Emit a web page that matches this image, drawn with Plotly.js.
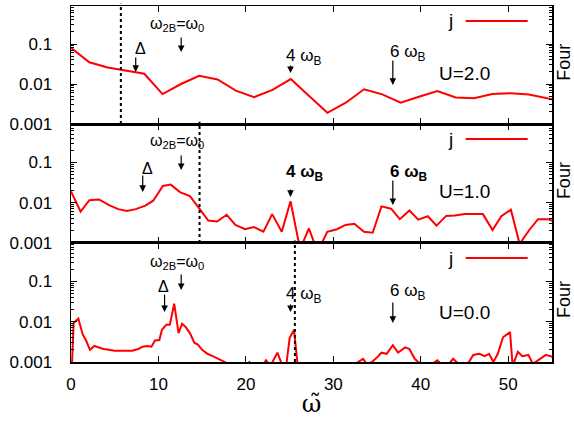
<!DOCTYPE html>
<html>
<head>
<meta charset="utf-8">
<script src="https://cdn.plot.ly/plotly-3.0.1.min.js"></script>
<style>html,body{margin:0;padding:0;background:#fff;}#chart{width:574px;height:421px;}</style>
</head>
<body>
<div id="chart"></div>
<script>
// ---- data: U = 2.0 (top panel)
const xU20 = [0, 2.09, 4.19, 6.28, 8.38, 10.47, 12.57, 14.66, 16.76, 18.85, 20.94, 23.04, 25.13, 27.23, 29.32, 31.42, 33.51, 35.6, 37.7, 39.79, 41.89, 43.98, 46.08, 48.17, 50.27, 52.36, 54.45, 56.55];
const yU20 = [0.081, 0.035, 0.026, 0.022, 0.018, 0.0056, 0.010, 0.016, 0.013, 0.0068, 0.0047, 0.0071, 0.0133, 0.005, 0.0019, 0.0034, 0.0074, 0.0055, 0.0034, 0.0048, 0.0067, 0.0046, 0.0044, 0.0056, 0.0059, 0.0055, 0.0043, 0.0035];
// ---- data: U = 1.0 (middle panel)
const xU10 = [0, 1.1, 2.1, 3.2, 4.4, 5.4, 6.4, 7.4, 8.5, 9.4, 10.5, 11.4, 12.5, 13.6, 14.7, 15.7, 16.7, 17.8, 18.8, 19.9, 20.9, 22.0, 23.0, 24.1, 25.1, 26.2, 27.2, 28.2, 29.3, 30.4, 31.4, 32.4, 33.5, 34.5, 35.5, 36.6, 37.6, 38.7, 39.7, 40.8, 41.8, 42.9, 43.9, 45.0, 46.0, 47.1, 48.2, 49.2, 50.3, 51.3, 52.4, 53.4, 54.5, 55.5];
const yU10 = [0.019, 0.006, 0.0115, 0.012, 0.0086, 0.0069, 0.0062, 0.0069, 0.0084, 0.0112, 0.026, 0.028, 0.018, 0.0145, 0.007, 0.0036, 0.0034, 0.005, 0.0028, 0.0022, 0.0025, 0.0019, 0.0052, 0.0019, 0.0108, 0.0007, 0.0023, 0.0006, 0.0019, 0.0022, 0.0028, 0.003, 0.0019, 0.0018, 0.0081, 0.0071, 0.0039, 0.0064, 0.0038, 0.0046, 0.0027, 0.0047, 0.0048, 0.0052, 0.0052, 0.0052, 0.0021, 0.0046, 0.0067, 0.00095, 0.0021, 0.0039, 0.0039, 0.0033];
// ---- data: U = 0.0 (bottom panel)
const xU00 = [0, 0.3, 0.84, 1.33, 1.7, 2.17, 2.67, 3.2, 3.7, 4.3, 5.0, 6.0, 7.0, 7.7, 8.2, 8.7, 9.2, 9.6, 10.1, 10.4, 10.9, 11.3, 11.8, 12.3, 12.7, 13.1, 13.6, 14.1, 14.5, 15.0, 15.6, 16.2, 16.8, 17.6, 18.2, 19.0, 20.0, 20.4, 20.8, 21.5, 22.3, 22.8, 23.6, 24.1, 24.6, 25.0, 25.5, 25.9, 26.5, 28.0, 30.0, 31.5, 32.5, 33.4, 33.8, 34.4, 35.0, 35.5, 36.1, 36.8, 37.4, 38.2, 38.7, 39.3, 39.7, 40.5, 41.3, 41.9, 42.5, 43.2, 43.7, 44.3, 45.0, 45.5, 46.0, 46.7, 47.3, 47.8, 48.3, 48.8, 49.4, 50.2, 50.5, 51.1, 51.6, 52.3, 52.8, 53.6, 54.3, 54.8, 55.3];
const yU00 = [0.0002, 0.0093, 0.0119, 0.0049, 0.0035, 0.002, 0.0025, 0.0023, 0.0021, 0.002, 0.0019, 0.0019, 0.0019, 0.0021, 0.0024, 0.0025, 0.0024, 0.0034, 0.0035, 0.0063, 0.0084, 0.0084, 0.028, 0.0052, 0.0089, 0.0074, 0.0052, 0.003, 0.0027, 0.002, 0.0016, 0.0014, 0.0012, 0.001, 0.0008, 0.0007, 0.0008, 0.001, 0.0008, 0.0006, 0.0011, 0.0008, 0.0017, 0.0009, 0.0008, 0.0039, 0.0063, 0.0009, 0.0006, 0.0005, 0.0005, 0.0006, 0.0009, 0.0012, 0.0009, 0.001, 0.0013, 0.0017, 0.0016, 0.0026, 0.0017, 0.0023, 0.0021, 0.0012, 0.001, 0.0007, 0.0009, 0.0011, 0.0008, 0.0009, 0.0012, 0.0009, 0.0008, 0.001, 0.0015, 0.0016, 0.0014, 0.0016, 0.001, 0.0016, 0.0041, 0.0055, 0.0008, 0.0018, 0.0014, 0.0015, 0.0009, 0.0012, 0.0015, 0.0014, 0.0013];

const panelLabels = ["U=2.0", "U=1.0", "U=0.0"];
const seriesName = "j";
const xTickVals = [0, 10, 20, 30, 40, 50];
const yTickVals = [0.001, 0.01, 0.1];
const yTickText = ["0.001", "0.01", "0.1"];
// dotted marker lines (one per panel)
const markerLineX = [5.7, 14.7, 25.6];
// arrow positions (frequency)
const deltaX = [7.4, 8.2, 10.7];
const omega2BX = 12.6;
const fourWB = 25.1;
const sixWB = 36.8;

const FONT = "Liberation Sans, Arial, sans-serif";
const RED = "#ff0000";

const xs = [xU20, xU10, xU00];
const ys = [yU20, yU10, yU00];
const domains = [[0.6685, 1], [0.3343, 0.6685], [0, 0.3343]];
const axIds = ["", "2", "3"];

const minorVals = [];
for (let e = -3; e <= 0; e++) for (let m = 2; m <= 9; m++) minorVals.push(m * Math.pow(10, e));

const traces = xs.map((x, i) => ({
  x: x, y: ys[i], type: "scatter", mode: "lines",
  xaxis: "x" + axIds[i], yaxis: "y" + axIds[i],
  line: {color: RED, width: 2}, showlegend: false, hoverinfo: "skip"
}));

const layout = {
  width: 574, height: 421,
  margin: {l: 71, r: 22, t: 6, b: 59},
  paper_bgcolor: "#fff", plot_bgcolor: "#fff",
  font: {family: FONT, color: "#000", size: 17},
  showlegend: false,
  shapes: [], annotations: []
};

for (let i = 0; i < 3; i++) {
  const id = axIds[i];
  layout["xaxis" + id] = {
    range: [0, 55], anchor: "y" + id, domain: [0, 1],
    tickmode: "array", tickvals: xTickVals,
    ticks: "inside", ticklen: 6, tickwidth: 1, tickcolor: "#000",
    showline: true, linecolor: "#000", linewidth: 1.5, mirror: "ticks",
    showgrid: false, zeroline: false,
    showticklabels: i === 2, tickfont: {size: 17, family: FONT},
    ticklabelstandoff: 6
  };
  if (i === 2) layout["xaxis" + id].title = {text: "ω̃", font: {size: 24, family: "DejaVu Serif, serif"}, standoff: 2};
  layout["yaxis" + id] = {
    type: "log", range: [-3, -0.05], domain: domains[i], anchor: "x" + id,
    tickmode: "array", tickvals: yTickVals, ticktext: yTickText,
    ticks: "inside", ticklen: 6, tickwidth: 1, tickcolor: "#000",
    minor: {tickmode: "array", tickvals: minorVals, ticks: "inside", ticklen: 3, tickwidth: 1, tickcolor: "#000", showgrid: false},
    showline: true, linecolor: "#000", linewidth: 1.5, mirror: "ticks",
    showgrid: false, zeroline: false,
    tickfont: {size: 17, family: FONT}, ticklabelstandoff: 14
  };
  const xr = "x" + id, yd = "y" + id + " domain", xd = "x" + id + " domain";
  // dotted vertical line
  layout.shapes.push({type: "line", xref: xr, yref: yd, x0: markerLineX[i], x1: markerLineX[i], y0: 0, y1: 1.02,
    line: {color: "#000", width: 2, dash: "dot"}});
  // legend sample line
  layout.shapes.push({type: "line", xref: xd, yref: yd, x0: 0.8206, x1: 0.9495, y0: 0.873, y1: 0.873,
    line: {color: RED, width: 2}});
  layout.annotations.push({xref: xd, yref: yd, x: 0.79, y: 0.873, text: seriesName, showarrow: false,
    font: {size: 19, family: FONT}, xanchor: "center", yanchor: "middle"});
  // panel label
  layout.annotations.push({xref: xd, yref: yd, x: (464 - 71) / 481, y: [0.432, 0.429, 0.42][i], text: panelLabels[i], showarrow: false,
    font: {size: 19, family: FONT}, xanchor: "center", yanchor: "middle"});
  // right "Four" label
  layout.annotations.push({xref: "paper", yref: yd, x: (564 - 71) / 481, y: 0.52, text: "Four", showarrow: false, textangle: -90,
    font: {size: 18, family: FONT}, xanchor: "center", yanchor: "middle"});

  const arrow = (x, tip, len) => ({xref: xr, yref: yd, x: x, y: tip, ax: 0, ay: -len, text: " ", showarrow: true,
    arrowhead: 2, arrowsize: 1.1, arrowwidth: 1.2, arrowcolor: "#000", standoff: 0, startstandoff: 0,
    font: {size: 2}});
  const label = (x, y, text, anchor, size) => ({xref: xr, yref: yd, x: x, y: y, text: text, showarrow: false,
    font: {size: size || 17, family: FONT}, xanchor: anchor || "center", yanchor: "middle"});

  const tips = [
    {w: 0.610, d: 0.441, f: 0.432, s: 0.331},
    {w: 0.613, d: 0.429, f: 0.387, s: 0.319},
    {w: 0.605, d: 0.42, f: 0.42, s: 0.328}
  ][i];
  const lens = [
    {w: 17, d: 17, f: 10, s: 27},
    {w: 17, d: 19, f: 10, s: 27},
    {w: 18, d: 20, f: 10, s: 23}
  ][i];
  layout.annotations.push(arrow(omega2BX, tips.w, lens.w));
  layout.annotations.push(arrow(deltaX[i], tips.d, lens.d));
  layout.annotations.push(arrow(fourWB, tips.f, lens.f));
  layout.annotations.push(arrow(sixWB, tips.s, lens.s));

  const wy = [0.847, 0.851, 0.84][i];
  layout.annotations.push(label(12.1, wy, "ω<sub>2B</sub>=ω<sub>0</sub>", "center", 16));
  const dxl = [7.9, 8.69, 10.55][i];
  const dyl = [0.644, 0.63, 0.633][i];
  layout.annotations.push(label(dxl, dyl, "Δ", "center", 16));
  const fy = [0.568, 0.588, 0.563][i];
  const sy = [0.60, 0.588, 0.588][i];
  const b = i === 1;
  layout.annotations.push(label(24.4, fy, b ? "<b>4 ω<sub>B</sub></b>" : "4 ω<sub>B</sub>", "left", 17));
  layout.annotations.push(label(36.2, sy, b ? "<b>6 ω<sub>B</sub></b>" : "6 ω<sub>B</sub>", "left", 17));
}

Plotly.newPlot("chart", traces, layout, {staticPlot: true, displayModeBar: false});
</script>
</body>
</html>
